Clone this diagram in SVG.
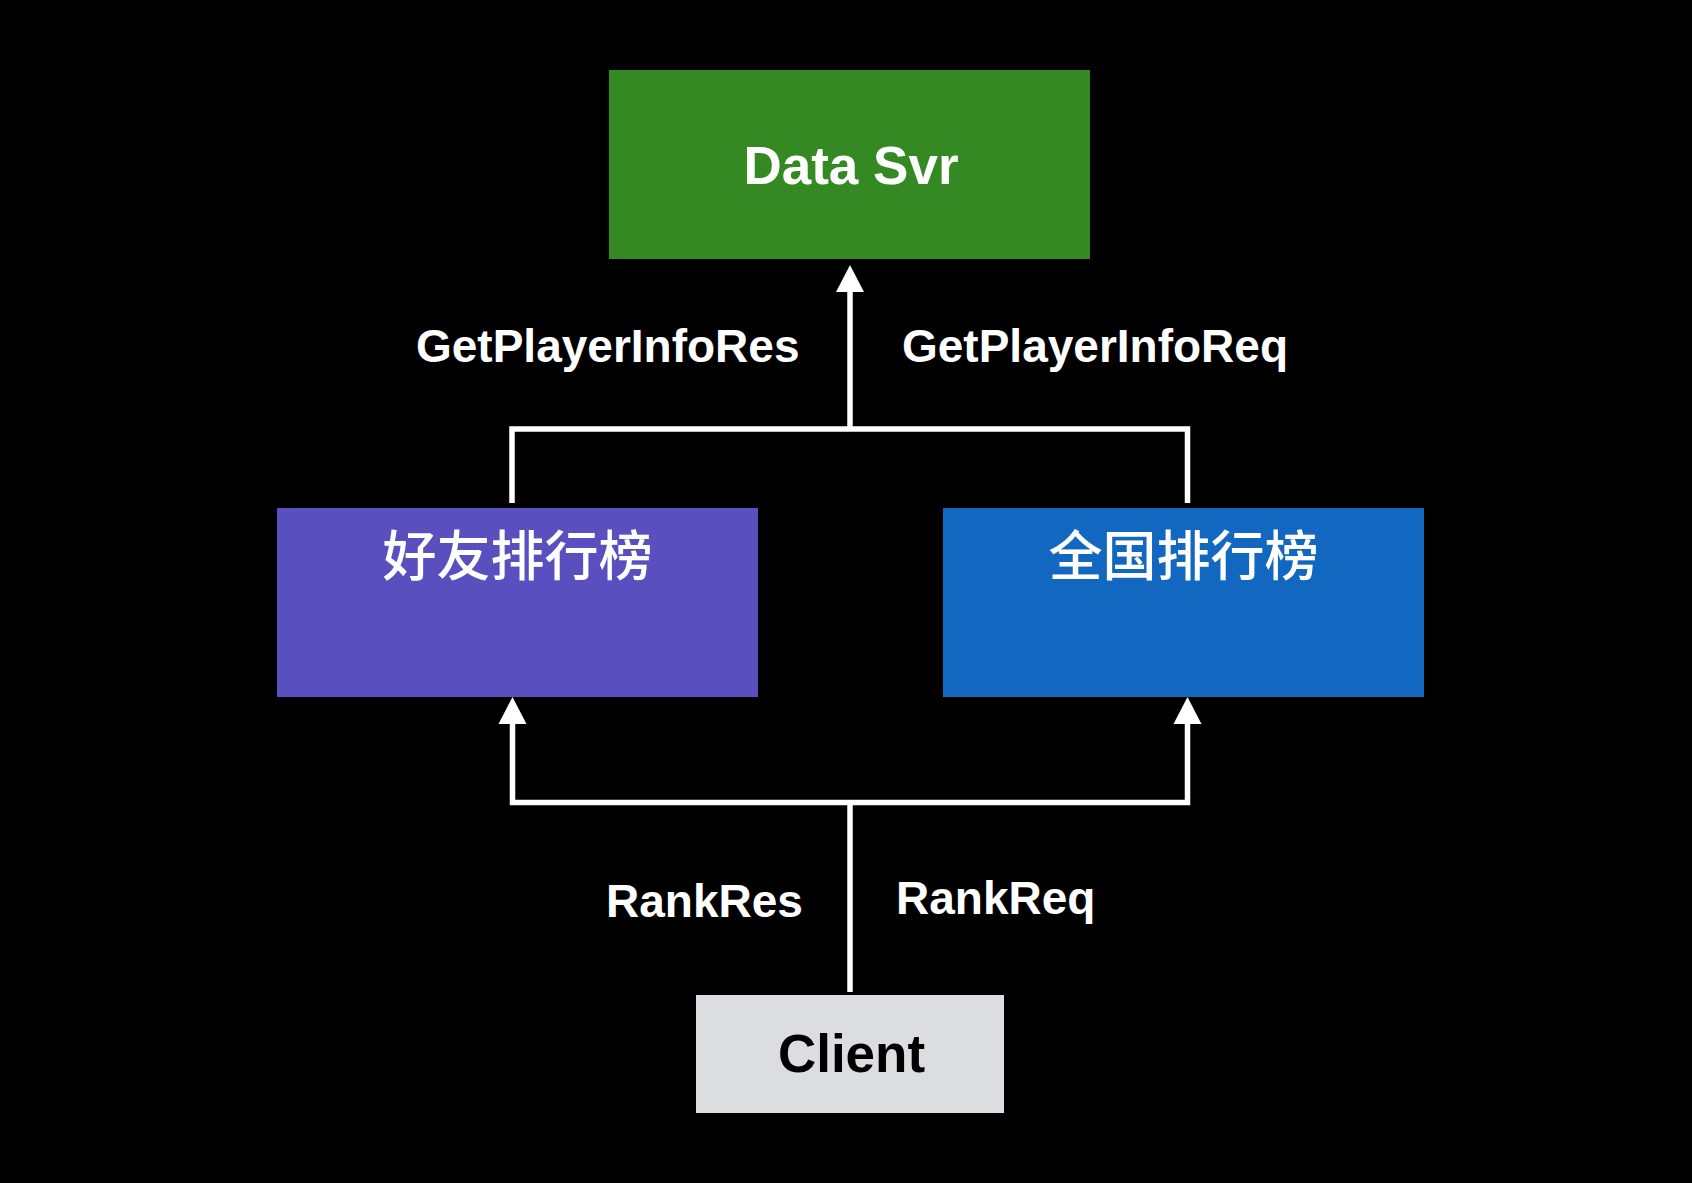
<svg xmlns="http://www.w3.org/2000/svg" width="1692" height="1183" viewBox="0 0 1692 1183">
  <defs>
    <style>
      .lbl { font-family: "Liberation Sans", Arial, sans-serif; font-weight: bold; fill: #ffffff; font-size: 46px; }
      .title { font-family: "Liberation Sans", Arial, sans-serif; font-weight: bold; font-size: 53px; text-anchor: middle; }
      .cjk { font-family: "Noto Sans CJK SC", "Noto Sans", sans-serif; font-weight: 500; font-size: 54px; fill: #ffffff; text-anchor: middle; }
      .conn { fill: none; stroke: #ffffff; stroke-width: 5.5; stroke-linejoin: miter; stroke-linecap: butt; }
    </style>
    <marker id="arrow" markerUnits="userSpaceOnUse" markerWidth="30" markerHeight="30" viewBox="0 -15 28 30" refX="0" refY="0" orient="auto">
      <path d="M0,-14 L27,0 L0,14 Z" fill="#ffffff"/>
    </marker>
  </defs>
  <rect x="0" y="0" width="1692" height="1183" fill="#000000"/>

  <g id="connectors">
    <path class="conn" d="M512,503 V429 H1187.5 V503"/>
    <path class="conn" d="M850,429 V292" marker-end="url(#arrow)"/>
    <path class="conn" d="M850,992 V802.5"/>
    <path class="conn" d="M850,802.5 H512.5 V724" marker-end="url(#arrow)"/>
    <path class="conn" d="M850,802.5 H1187.5 V724" marker-end="url(#arrow)"/>
  </g>

  <g id="data-svr">
    <rect x="609" y="70" width="481" height="189" fill="#358923"/>
    <text class="title" x="851" y="183.5" fill="#ffffff">Data Svr</text>
  </g>

  <g id="friend-rank">
    <rect x="277" y="508" width="481" height="189" fill="#5A4FBE"/>
    <text class="cjk" x="517.5" y="576">好友排行榜</text>
  </g>

  <g id="national-rank">
    <rect x="943" y="508" width="481" height="189" fill="#1268C0"/>
    <text class="cjk" x="1183.5" y="576">全国排行榜</text>
  </g>

  <g id="client">
    <rect x="696" y="995" width="308" height="118" fill="#DCDDDE"/>
    <text class="title" x="851.5" y="1072" fill="#000000" style="font-size:53px">Client</text>
  </g>

  <g id="labels">
    <text class="lbl" x="416" y="362">GetPlayerInfoRes</text>
    <text class="lbl" x="902" y="362">GetPlayerInfoReq</text>
    <text class="lbl" x="606" y="916.5">RankRes</text>
    <text class="lbl" x="896" y="914">RankReq</text>
  </g>
</svg>
